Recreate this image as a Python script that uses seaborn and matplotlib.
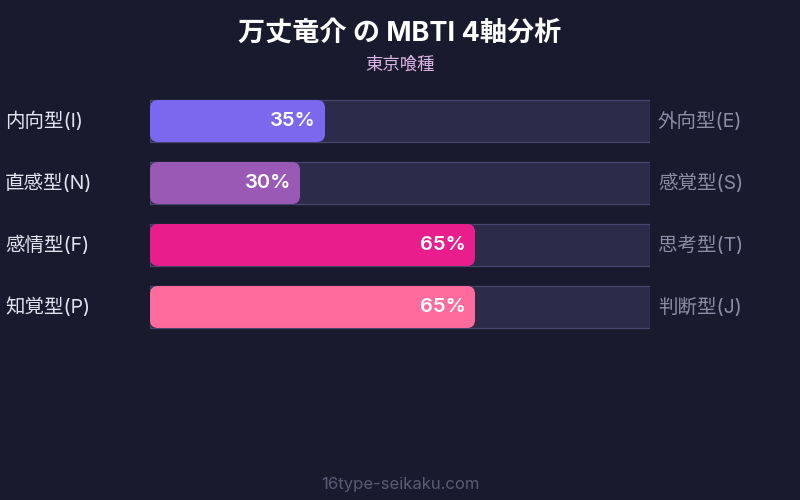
import matplotlib
matplotlib.use("Agg")
import matplotlib.pyplot as plt
from matplotlib.patches import FancyBboxPatch
import pandas as pd
import seaborn as sns

sns.set_theme(style="white")
plt.rcParams["font.family"] = ["Inter", "Noto Sans CJK JP", "DejaVu Sans"]

left_labels = ["内向型(I)", "直感型(N)", "感情型(F)", "知覚型(P)"]
right_labels = ["外向型(E)", "感覚型(S)", "思考型(T)", "判断型(J)"]
values = [35, 30, 65, 65]
colors = ["#7b68ee", "#9b59b6", "#e91e8c", "#ff6b9d"]

bg = "#1a1a2e"
df = pd.DataFrame({"axis": left_labels, "pct": values, "full": [100] * 4})

fig = plt.figure(figsize=(8, 5), dpi=100, facecolor=bg)
ax = fig.add_axes([0.1875, 0.324, 0.625, 0.496])
ax.set_facecolor(bg)

# track bars
sns.barplot(data=df, x="full", y="axis", color="#2d2b4a", width=0.677,
            edgecolor="#48466e", linewidth=0.9, ax=ax, saturation=1)
n_track = len(ax.patches)
# filled bars
sns.barplot(data=df, x="pct", y="axis", hue="axis", palette=colors, width=0.677,
            ax=ax, saturation=1, legend=False, linewidth=0)

# swap fill rectangles for rounded ones
aspect = (1 / 62) / (1 / 5)
for p in list(ax.patches[n_track:]):
    x, y = p.get_x(), p.get_y()
    w, h = p.get_width(), p.get_height()
    fc = p.get_facecolor()
    p.remove()
    ax.add_patch(FancyBboxPatch((x, y), w, h,
                                boxstyle="round,pad=0,rounding_size=1.6",
                                mutation_aspect=aspect, fc=fc, ec="none", zorder=3))

ax.set_xlim(0, 100)
ax.set_ylim(3.5, -0.5)
ax.set_xlabel("")
ax.set_ylabel("")
ax.set_xticks([])
ax.set_yticks([])
for s in ax.spines.values():
    s.set_visible(False)

for i, (v, ll, rl) in enumerate(zip(values, left_labels, right_labels)):
    ax.text(v - 1.8, i, f"{v}%", ha="right", va="center", color="white",
            fontsize=14.5, fontweight="semibold", zorder=4)
    ax.text(-29, i, ll, ha="left", va="center", color="#e4e4f0", fontsize=14)
    ax.text(101.6, i, rl, ha="left", va="center", color="#8c8ca6", fontsize=14)

fig.text(0.5, 1 - 34 / 500, "万丈竜介 の MBTI 4軸分析", ha="center", va="center",
         color="white", fontsize=19.5, fontweight="bold")
fig.text(0.5, 1 - 65 / 500, "東京喰種", ha="center", va="center",
         color="#dcb4e4", fontsize=12.5)
fig.text(0.5, 1 - 484 / 500, "16type-seikaku.com", ha="center", va="center",
         color="#5a5a76", fontsize=12)

fig.savefig("out.png", dpi=100, facecolor=bg)
